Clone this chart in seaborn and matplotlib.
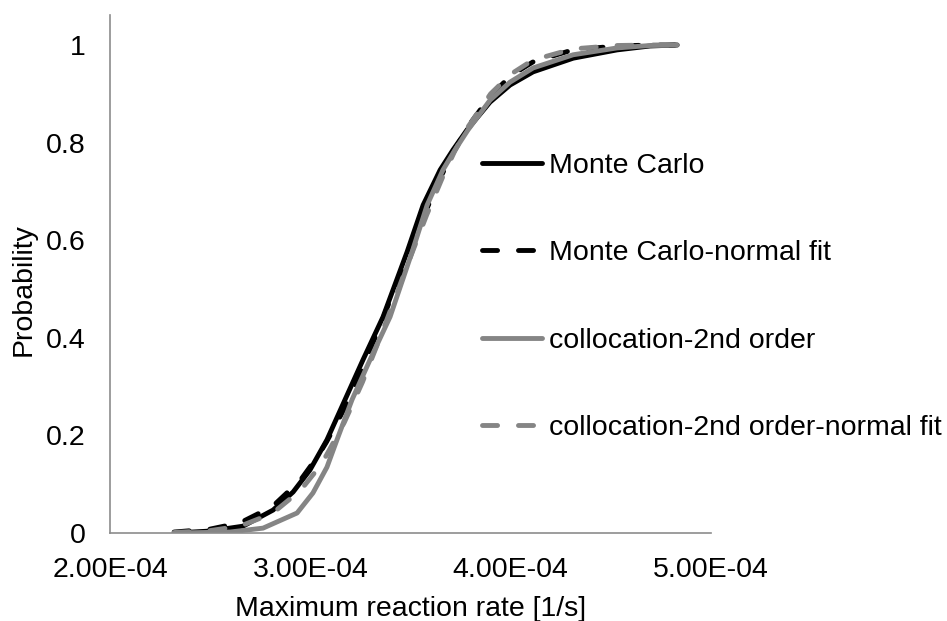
import matplotlib
matplotlib.use("Agg")
import matplotlib.pyplot as plt
import seaborn as sns
import pandas as pd

# Cumulative distributions of the maximum reaction rate (x in units of 1e-4 1/s)
mc_x = [2.325, 2.499, 2.664, 2.814, 2.914, 2.998, 3.083, 3.173, 3.263, 3.363,
        3.483, 3.563, 3.648, 3.712, 3.782, 3.897, 3.997, 4.112, 4.312, 4.531,
        4.696, 4.831]
mc_p = [0.000, 0.004, 0.014, 0.047, 0.084, 0.129, 0.191, 0.273, 0.355, 0.443,
        0.576, 0.672, 0.744, 0.785, 0.826, 0.883, 0.918, 0.945, 0.973, 0.990,
        0.998, 1.000]

mcfit_x = [2.32, 2.50, 2.65, 2.81, 2.95, 3.04, 3.08, 3.17, 3.26, 3.36, 3.42,
           3.48, 3.56, 3.65, 3.71, 3.78, 3.90, 4.00, 4.11, 4.31, 4.53, 4.70, 4.83]
mcfit_p = [0.002, 0.008, 0.021, 0.054, 0.108, 0.159, 0.186, 0.255, 0.337, 0.437,
           0.500, 0.563, 0.644, 0.729, 0.777, 0.829, 0.896, 0.937, 0.965, 0.990,
           0.998, 1.000, 1.000]

col_x = [2.325, 2.599, 2.764, 2.934, 3.013, 3.083, 3.133, 3.208, 3.298, 3.398,
         3.508, 3.583, 3.662, 3.722, 3.787, 3.897, 3.997, 4.112, 4.312, 4.531,
         4.696, 4.831]
col_p = [0.000, 0.002, 0.010, 0.041, 0.082, 0.135, 0.191, 0.273, 0.355, 0.443,
         0.576, 0.672, 0.744, 0.785, 0.826, 0.887, 0.924, 0.953, 0.980, 0.994,
         0.999, 1.000]

colfit_x = [2.32, 2.50, 2.65, 2.81, 2.95, 3.04, 3.08, 3.17, 3.26, 3.36, 3.44,
            3.50, 3.58, 3.66, 3.72, 3.79, 3.90, 4.00, 4.11, 4.31, 4.53, 4.70, 4.83]
colfit_p = [0.001, 0.005, 0.014, 0.040, 0.087, 0.133, 0.159, 0.227, 0.309, 0.413,
            0.500, 0.566, 0.651, 0.729, 0.782, 0.834, 0.900, 0.940, 0.969, 0.992,
            0.999, 1.000, 1.000]

series_names = ["Monte Carlo", "Monte Carlo-normal fit",
                "collocation-2nd order", "collocation-2nd order-normal fit"]
x_ticks = [2.0e-4, 3.0e-4, 4.0e-4, 5.0e-4]
x_tick_labels = ["2.00E-04", "3.00E-04", "4.00E-04", "5.00E-04"]
y_ticks = [0, 0.2, 0.4, 0.6, 0.8, 1]
y_tick_labels = ["0", "0.2", "0.4", "0.6", "0.8", "1"]

sns.set_theme(style="white")
plt.rcParams["font.family"] = ["Liberation Sans", "DejaVu Sans"]
plt.rcParams["text.color"] = "black"

FS = 20.5

fig = plt.figure(figsize=(9.47, 6.21), dpi=100)
ax = fig.add_axes([110 / 947, 1 - 533 / 621, 601 / 947, 518 / 621])

black = "#000000"
grey = "#858585"
lw = 3.5
dash = (3.1, 4.3)
styles = [
    (mc_x, mc_p, black, None),
    (mcfit_x, mcfit_p, black, dash),
    (col_x, col_p, grey, None),
    (colfit_x, colfit_p, grey, dash),
]

for (xs, ps, color, dsh), name in zip(styles, series_names):
    df = pd.DataFrame({"rate": [v * 1e-4 for v in xs], "prob": ps})
    sns.lineplot(data=df, x="rate", y="prob", ax=ax, color=color, lw=lw,
                 sort=False, estimator=None, label=name)
    line = ax.lines[-1]
    line.set_solid_capstyle("round")
    line.set_solid_joinstyle("round")
    line.set_dash_capstyle("round")
    if dsh is not None:
        line.set_dashes(dsh)

ax.set_xlim(2.0e-4, 5.0e-4)
ax.set_ylim(0, 1.0615)
ax.set_xticks(x_ticks)
ax.set_xticklabels(x_tick_labels)
ax.set_yticks(y_ticks)
ax.set_yticklabels(y_tick_labels)
ax.tick_params(axis="both", length=0, labelsize=FS, colors="black")
ax.tick_params(axis="x", pad=17)
ax.tick_params(axis="y", pad=17.5)

for side in ["top", "right"]:
    ax.spines[side].set_visible(False)
for side in ["left", "bottom"]:
    ax.spines[side].set_color("#8c8c8c")
    ax.spines[side].set_linewidth(1.2)

ax.set_xlabel("Maximum reaction rate [1/s]", fontsize=FS, color="black")
ax.set_ylabel("Probability", fontsize=FS, color="black")
ax.xaxis.set_label_coords(0.5, -0.121)
ax.yaxis.set_label_coords(-0.122, 0.47)

ax.legend_.remove()
handles, labels = ax.get_legend_handles_labels()
fig.legend(handles, labels, loc="center left",
           bbox_to_anchor=(482 / 947, 1 - 297 / 621),
           frameon=False, fontsize=FS, handlelength=2.1,
           handletextpad=0.25, labelspacing=2.15, borderpad=0,
           borderaxespad=0)

fig.savefig("out.png", dpi=100)
